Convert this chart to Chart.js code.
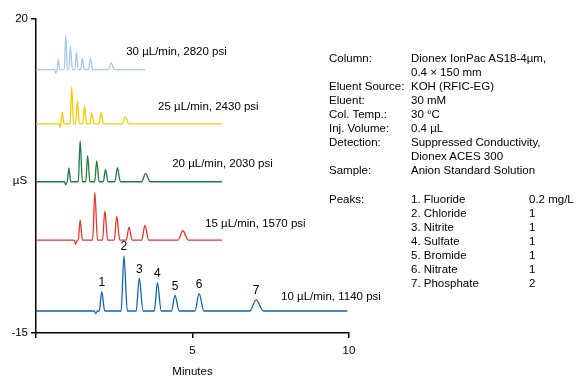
<!DOCTYPE html>
<html>
<head>
<meta charset="utf-8">
<script src="https://cdn.jsdelivr.net/npm/chart.js@4"></script>
<style>
  html, body { margin: 0; padding: 0; background: #fff; }
  #wrap { position: relative; width: 585px; height: 377px; }
  #chart { position: absolute; left: 0; top: 0; }
  .info { position: absolute; font: 11.5px "Liberation Sans", Arial, sans-serif; color: #000; white-space: nowrap; line-height: 13px; }
</style>
</head>
<body>
<div id="wrap">
  <canvas id="chart" width="585" height="377"></canvas>
  <div id="info"></div>
</div>
<script>
/* traces: flow rate label, baseline, end time, water dip, peak times/heights/half-widths */
const traceLabels = ['30 µL/min, 2820 psi', '25 µL/min, 2430 psi', '20 µL/min, 2030 psi', '15 µL/min, 1570 psi', '10 µL/min, 1140 psi'];
const traceColors = ['#a6c8ec', '#f7cb00', '#1b7d3e', '#eb3326', '#0c64b6'];
const baselines = [14.35, 8.3, 1.86, -4.64, -12.55];
const endTimes = [3.48, 5.94, 5.94, 5.94, 9.95];
const dipTimes = [0.63, 0.77, 0.95, 1.27, 1.91];
const dipDepths = [0.4, 0.4, 0.35, 0.45, 0.3];
const labelX = [2.88, 3.9, 4.35, 5.4, 7.83];
const labelY = [16.3, 10.2, 3.83, -2.85, -11.0];

const peakTimes = [
    [0.71, 0.95, 1.10, 1.29, 1.48, 1.74, 2.40],
    [0.84, 1.14, 1.32, 1.55, 1.78, 2.08, 2.85],
    [1.05, 1.41, 1.65, 1.94, 2.22, 2.60, 3.50],
    [1.41, 1.88, 2.20, 2.58, 2.97, 3.48, 4.69],
    [2.10, 2.81, 3.30, 3.88, 4.44, 5.21, 7.03],
];
const peakHeights = [
    [15.5, 18.2, 17.0, 16.3, 15.6, 15.6, 15.1],
    [9.6, 12.4, 10.9, 10.3, 9.5, 9.6, 9.1],
    [3.4, 6.4, 4.76, 4.17, 3.24, 3.42, 2.8],
    [-2.4, 0.68, -1.4, -2.0, -3.2, -3.0, -3.6],
    [-10.4, -6.4, -8.9, -9.4, -10.8, -10.6, -11.3],
];
const peakWidths = [
    [0.04, 0.045, 0.05, 0.05, 0.055, 0.06, 0.09],
    [0.045, 0.05, 0.055, 0.055, 0.06, 0.065, 0.1],
    [0.05, 0.06, 0.06, 0.065, 0.07, 0.08, 0.12],
    [0.06, 0.07, 0.075, 0.08, 0.085, 0.1, 0.15],
    [0.08, 0.09, 0.1, 0.1, 0.11, 0.13, 0.2],
];
const peakNumbers = ['1', '2', '3', '4', '5', '6', '7'];

const infoRows = [
    ['Column:', 'Dionex IonPac AS18-4µm,', ''],
    ['', '0.4 × 150 mm', ''],
    ['Eluent Source:', 'KOH (RFIC-EG)', ''],
    ['Eluent:', '30 mM', ''],
    ['Col. Temp.:', '30 °C', ''],
    ['Inj. Volume:', '0.4 µL', ''],
    ['Detection:', 'Suppressed Conductivity,', ''],
    ['', 'Dionex ACES 300', ''],
    ['Sample:', 'Anion Standard Solution', ''],
    ['', '', ''],
    ['Peaks:', '1. Fluoride', '0.2 mg/L'],
    ['', '2. Chloride', '1'],
    ['', '3. Nitrite', '1'],
    ['', '4. Sulfate', '1'],
    ['', '5. Bromide', '1'],
    ['', '6. Nitrate', '1'],
    ['', '7. Phosphate', '2'],
];

/* info panel */
const info = document.getElementById('info');
const infoCols = [329, 411, 529];
infoRows.forEach((row, i) => {
    row.forEach((txt, c) => {
        if (!txt) return;
        const d = document.createElement('div');
        d.className = 'info';
        d.textContent = txt;
        d.style.left = infoCols[c] + 'px';
        d.style.top = (52 + i * 14.05) + 'px';
        info.appendChild(d);
    });
});

function buildTrace(i) {
    const base = baselines[i];
    const pts = [{ x: 0, y: base }];
    const dw = Math.min(0.05, (peakTimes[i][0] - peakWidths[i][0] - dipTimes[i]) * 0.9);
    pts.push({ x: dipTimes[i] - dw, y: base });
    pts.push({ x: dipTimes[i], y: base - dipDepths[i] });
    pts.push({ x: dipTimes[i] + dw, y: base });
    peakTimes[i].forEach((t, k) => {
        const w = peakWidths[i][k];
        pts.push({ x: t - w, y: base });
        pts.push({ x: t, y: peakHeights[i][k] });
        pts.push({ x: t + w * 1.2, y: base });
    });
    pts.push({ x: endTimes[i], y: base });
    return pts.sort((a, b) => a.x - b.x);
}

const FONT = '"Liberation Sans", Arial, sans-serif';

const textPlugin = {
    id: 'texts',
    afterDatasetsDraw(chart) {
        const ctx = chart.ctx;
        const xs = chart.scales.x, ys = chart.scales.y;
        const area = chart.chartArea;
        ctx.save();
        ctx.fillStyle = '#000';
        ctx.font = '11.5px ' + FONT;
        ctx.textBaseline = 'middle';
        ctx.textAlign = 'left';
        traceLabels.forEach((t, i) => {
            ctx.fillText(t, xs.getPixelForValue(labelX[i]), ys.getPixelForValue(labelY[i]));
        });
        /* peak numbers above the 10 µL/min trace */
        ctx.textAlign = 'center';
        ctx.font = '12px ' + FONT;
        const last = peakTimes.length - 1;
        peakNumbers.forEach((n, k) => {
            ctx.fillText(n, xs.getPixelForValue(peakTimes[last][k]), ys.getPixelForValue(peakHeights[last][k]) - 9);
        });
        /* axis titles */
        ctx.font = '11.5px ' + FONT;
        ctx.fillText('µS', area.left - 16, (area.top + area.bottom) / 2 + 5);
        ctx.fillText('Minutes', (area.left + area.right) / 2, area.bottom + 39);
        ctx.restore();
    }
};

new Chart(document.getElementById('chart'), {
    type: 'line',
    data: {
        datasets: traceLabels.map((lab, i) => ({
            label: lab,
            data: buildTrace(i),
            borderColor: traceColors[i],
            borderWidth: 1.3,
            pointRadius: 0,
            fill: false,
            cubicInterpolationMode: 'monotone',
        })),
    },
    options: {
        responsive: false,
        animation: false,
        layout: { padding: { left: 0, right: 236, top: 19, bottom: 0 } },
        plugins: { legend: { display: false }, tooltip: { enabled: false } },
        scales: {
            x: {
                type: 'linear',
                min: 0, max: 10,
                afterBuildTicks: s => { s.ticks = [0, 5, 10].map(v => ({ value: v })); },
                afterFit: s => { s.height = 44; },
                ticks: {
                    color: '#000', font: { family: FONT, size: 11.5 }, padding: 6,
                    maxRotation: 0,
                    callback: v => (v === 0 ? '' : v),
                },
                grid: { drawOnChartArea: false, color: '#000', tickLength: 5, lineWidth: 1.5 },
                border: { color: '#000', width: 1.5 },
            },
            y: {
                min: -15, max: 20,
                afterBuildTicks: s => { s.ticks = [-15, 20].map(v => ({ value: v })); },
                afterFit: s => { s.width = 36; },
                ticks: { color: '#000', font: { family: FONT, size: 11.5 }, padding: 3 },
                grid: { drawOnChartArea: false, color: '#000', tickLength: 5, lineWidth: 1.5 },
                border: { color: '#000', width: 1.5 },
            },
        },
    },
    plugins: [textPlugin],
});
</script>
</body>
</html>
